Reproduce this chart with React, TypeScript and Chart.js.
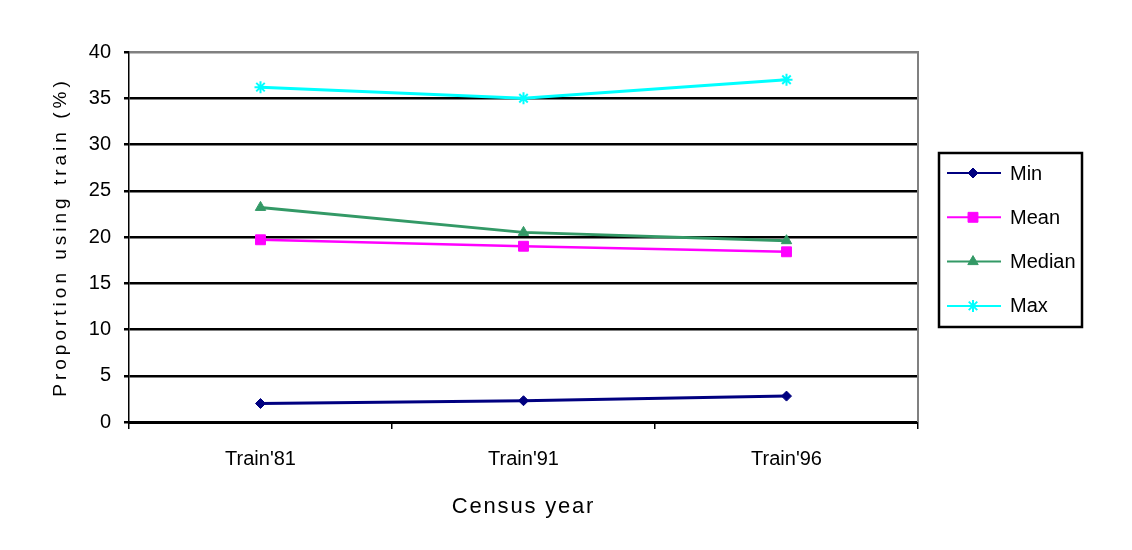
import React, { useEffect, useRef } from "react";
import { Chart, registerables } from "chart.js";
import { drawPoint } from "chart.js/helpers";

Chart.register(...registerables);

const categories = ["Train'81", "Train'91", "Train'96"];
const minValues = [2.0, 2.3, 2.8];
const meanValues = [19.7, 19.0, 18.4];
const medianValues = [23.2, 20.5, 19.6];
const maxValues = [36.2, 35.0, 37.0];
const yTitle = "Proportion using train (%)";
const xTitle = "Census year";

const FONT = "'Liberation Sans', Arial, sans-serif";

// draw an axis title with extra letter spacing (the reference text is spaced out)
function spaceTitle(scale: any, spacing: string) {
  if (scale.__spaced) return;
  scale.__spaced = true;
  const orig = scale.drawTitle;
  scale.drawTitle = function (...args: any[]) {
    const ctx = this.ctx;
    ctx.save();
    (ctx as any).letterSpacing = spacing;
    orig.apply(this, args);
    ctx.restore();
  };
}

const frameAndLegend = {
  id: "frameAndLegend",
  afterDraw(chart: any) {
    const { ctx, chartArea } = chart;
    ctx.save();
    ctx.strokeStyle = "#808080";
    ctx.lineWidth = 2;
    ctx.beginPath();
    ctx.moveTo(chartArea.right, chartArea.top - 1);
    ctx.lineTo(chartArea.right, chartArea.bottom);
    ctx.stroke();

    const left = chartArea.right + 21;
    const top = 153;
    const w = 143;
    const h = 174;
    ctx.strokeStyle = "#000";
    ctx.lineWidth = 2.5;
    ctx.strokeRect(left, top, w, h);

    const datasets = chart.data.datasets;
    datasets.forEach((ds: any, i: number) => {
      const y = 173 + i * 44.3;
      ctx.strokeStyle = ds.borderColor;
      ctx.lineWidth = 2;
      ctx.beginPath();
      ctx.moveTo(left + 8, y);
      ctx.lineTo(left + 62, y);
      ctx.stroke();
      ctx.fillStyle = ds.pointBackgroundColor;
      ctx.strokeStyle = ds.pointBorderColor;
      ctx.lineWidth = ds.pointBorderWidth;
      drawPoint(
        ctx,
        {
          pointStyle: ds.pointStyle,
          radius: ds.pointRadius,
          rotation: 0,
          borderWidth: ds.pointBorderWidth,
        },
        left + 34,
        y
      );
      ctx.fillStyle = "#000";
      ctx.font = `20px ${FONT}`;
      ctx.textAlign = "left";
      ctx.textBaseline = "middle";
      ctx.fillText(ds.label, left + 71, y + 1);
    });
    ctx.restore();
  },
};

function makeDataset(
  label: string,
  data: number[],
  color: string,
  pointStyle: string,
  radius: number,
  lineWidth: number
) {
  return {
    label,
    data,
    borderColor: color,
    backgroundColor: color,
    pointBackgroundColor: color,
    pointBorderColor: color,
    pointStyle,
    pointRadius: radius,
    pointBorderWidth: pointStyle === "star" ? 2 : 1,
    borderWidth: lineWidth,
    tension: 0,
    fill: false,
  };
}

export default function App() {
  const canvasRef = useRef<HTMLCanvasElement | null>(null);

  useEffect(() => {
    if (!canvasRef.current) return;
    Chart.defaults.font.family = FONT;
    Chart.defaults.color = "#000";
    const chart = new Chart(canvasRef.current, {
      type: "line",
      data: {
        labels: categories,
        datasets: [
          makeDataset("Min", minValues, "#000080", "rectRot", 5, 3),
          makeDataset("Mean", meanValues, "#FF00FF", "rect", 7, 2.5),
          makeDataset("Median", medianValues, "#339966", "triangle", 6, 3),
          makeDataset("Max", maxValues, "#00FFFF", "star", 6, 3),
        ],
      },
      options: {
        animation: false,
        responsive: false,
        devicePixelRatio: 1,
        layout: { padding: { left: 49, top: 52, right: 214, bottom: 30 } },
        plugins: {
          legend: { display: false },
          tooltip: { enabled: false },
        },
        scales: {
          x: {
            offset: true,
            grid: {
              offset: true,
              drawOnChartArea: false,
              drawTicks: true,
              tickLength: 7,
              color: "#000",
              tickColor: "#000",
              lineWidth: 1.5,
            },
            border: { color: "#000", width: 3 },
            ticks: { font: { size: 20 }, padding: 18, color: "#000" },
            title: {
              display: true,
              text: xTitle,
              font: { size: 22 },
              color: "#000",
              padding: 0,
            },
            afterFit: (scale: any) => {
              scale.height = 98;
              spaceTitle(scale, "1.8px");
            },
          },
          y: {
            min: 0,
            max: 40,
            ticks: {
              stepSize: 5,
              font: { size: 20 },
              padding: 13,
              color: "#000",
            },
            grid: {
              color: (c: any) => (c.tick && c.tick.value === 40 ? "#808080" : "#000"),
              tickColor: "#000",
              lineWidth: 2.5,
              tickLength: 5,
            },
            border: { color: "#000", width: 1.5 },
            title: {
              display: true,
              text: yTitle,
              font: { size: 19 },
              color: "#000",
              padding: 0,
            },
            afterFit: (scale: any) => {
              scale.width = 129 - 49;
              spaceTitle(scale, "4px");
            },
          },
        },
      },
      plugins: [frameAndLegend],
    });
    return () => chart.destroy();
  }, []);

  return (
    <canvas
      ref={canvasRef}
      width={1132}
      height={550}
      style={{ position: "fixed", left: 0, top: 0, width: 1132, height: 550, background: "#fff" }}
    />
  );
}
